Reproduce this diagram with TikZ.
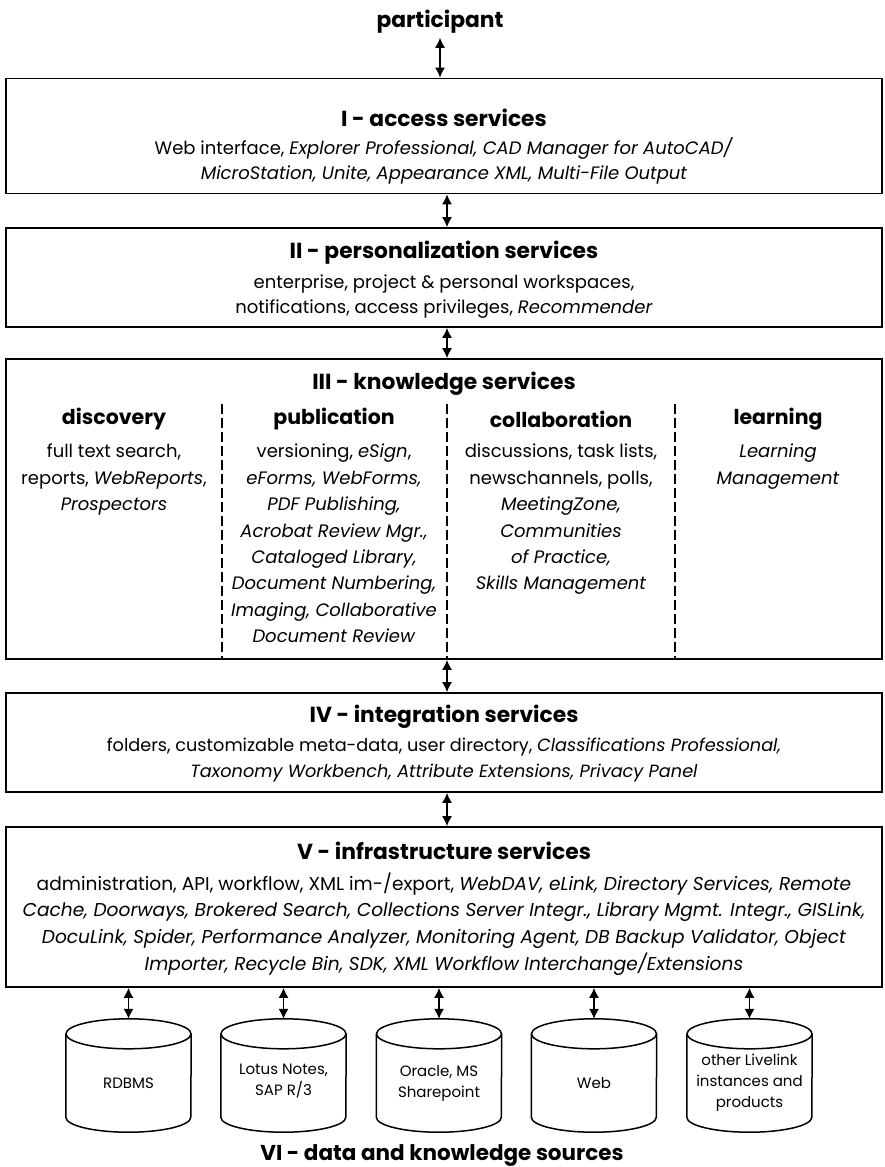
\documentclass[tikz,border=0pt]{standalone}
\usepackage{fontspec}
\setmainfont{Poppins}
\usetikzlibrary{arrows.meta}
\tikzset{
  layer/.style={draw, line width=1.8pt, minimum width=876pt, inner sep=0pt},
  ttl/.style={font=\fontsize{21.8}{24}\selectfont\bfseries, inner sep=0pt},
  body/.style={font=\fontsize{18}{24.5}\selectfont, align=center, inner sep=0pt},
  colhead/.style={font=\fontsize{20.5}{24}\selectfont\bfseries, inner sep=0pt},
  coltext/.style={font=\fontsize{18}{26.4}\selectfont, align=center, inner sep=0pt},
  arr/.style={{Latex[length=10pt,width=10pt]}-{Latex[length=10pt,width=10pt]}, line width=1.2pt},
  sep/.style={line width=1.8pt, dash pattern=on 10pt off 4pt},
  cylbox/.style={minimum width=125pt, minimum height=113pt, inner sep=0pt, align=center,
    font=\fontsize{15}{21}\selectfont},
  cyllabel/.style={inner sep=0pt, align=center, font=\fontsize{15}{21}\selectfont},
  cylline/.style={line width=1.5pt, fill=white},
}
\newcommand{\mycyl}[1]{%
  \draw[cylline] ([yshift=-15pt]#1.north west) -- ([yshift=15pt]#1.south west)
    arc[start angle=180, end angle=360, x radius=62.5pt, y radius=15pt]
    -- ([yshift=-15pt]#1.north east);
  \draw[cylline] ([yshift=-15pt]#1.north) ellipse[x radius=62.5pt, y radius=15pt];
}
\begin{document}
\begin{tikzpicture}[x=1pt,y=1pt]
\useasboundingbox (0,0) rectangle (884,-1167);

\node[ttl] (part) at (440,-22) {participant};

\node[layer, minimum height=115pt] (b1) at (444,-136) {};
\node[ttl] (t1) at (444,-118) {I - access services};
\node[body] (x1) at (444,-161) {Web interface, \textit{Explorer Professional, CAD Manager for AutoCAD/}\\
\textit{MicroStation, Unite, Appearance XML, Multi-File Output}};

\node[layer, minimum height=99pt] (b2) at (444,-277.5) {};
\node[ttl] (t2) at (444,-252.5) {II - personalization services};
\node[body] (x2) at (444,-296.5) {enterprise, project \& personal workspaces,\\
notifications, access privileges, \textit{Recommender}};

\node[layer, minimum height=300pt] (b3) at (444,-509) {};
\node[ttl] (t3) at (444,-383.5) {III - knowledge services};
\node[colhead] (h1) at (114,-419) {discovery};
\node[colhead] (h2) at (334,-419) {publication};
\node[colhead] (h3) at (561,-419) {collaboration};
\node[colhead] (h4) at (778,-419) {learning};
\node[coltext, anchor=north] (c1) at (114,-444) {full text search,\\ reports, \textit{WebReports},\\ \textit{Prospectors}};
\node[coltext, anchor=north] (c2) at (334,-444) {versioning, \textit{eSign},\\ \textit{eForms, WebForms,}\\ \textit{PDF Publishing,}\\
\textit{Acrobat Review Mgr.,}\\ \textit{Cataloged Library,}\\ \textit{Document Numbering,}\\ \textit{Imaging, Collaborative}\\ \textit{Document Review}};
\node[coltext, anchor=north] (c3) at (561,-444) {discussions, task lists,\\ newschannels, polls,\\ \textit{MeetingZone,}\\ \textit{Communities}\\ \textit{of Practice,}\\ \textit{Skills Management}};
\node[coltext, anchor=north] (c4) at (778,-444) {\textit{Learning}\\ \textit{Management}};
\coordinate (s1) at (222,-404);
\coordinate (s2) at (447,-404);
\coordinate (s3) at (675,-404);
\draw[sep] (s1) -- (b3.south -| s1);
\draw[sep] (s2) -- (b3.south -| s2);
\draw[sep] (s3) -- (b3.south -| s3);

\node[layer, minimum height=99pt] (b4) at (444,-742.5) {};
\node[ttl] (t4) at (444,-716.5) {IV - integration services};
\node[body, font=\fontsize{17.7}{26}\selectfont] (x4) at (444,-760) {folders, customizable meta-data, user directory, \textit{Classifications Professional,}\\
\textit{Taxonomy Workbench, Attribute Extensions, Privacy Panel}};

\node[layer, minimum height=160pt] (b5) at (444,-907) {};
\node[ttl] (t5) at (444,-851) {V - infrastructure services};
\node[body, font=\fontsize{18.6}{26.7}\selectfont] (x5) at (444,-924) {administration, API, workflow, XML im-/export, \textit{WebDAV, eLink, Directory Services, Remote}\\
\textit{Cache, Doorways, Brokered Search, Collections Server Integr., Library Mgmt. Integr., GISLink,}\\
\textit{DocuLink, Spider, Performance Analyzer, Monitoring Agent, DB Backup Validator, Object}\\
\textit{Importer, Recycle Bin, SDK, XML Workflow Interchange/Extensions}};

% arrows between layers
\coordinate (pa) at (440,0);
\coordinate (ma) at (447,0);
\draw[arr] (part.south -| pa) ++(0,-4) -- (b1.north -| pa);
\draw[arr] (b1.south -| ma) -- (b2.north -| ma);
\draw[arr] (b2.south -| ma) -- (b3.north -| ma);
\draw[arr] (b3.south -| ma) -- (b4.north -| ma);
\draw[arr] (b4.south -| ma) -- (b5.north -| ma);

% data sources
\node[cylbox] (d1) at (128.5,-1075.5) {};
\node[cylbox] (d2) at (283.5,-1075.5) {};
\node[cylbox] (d3) at (439,-1075.5) {};
\node[cylbox] (d4) at (594,-1075.5) {};
\node[cylbox] (d5) at (749.5,-1075.5) {};
\mycyl{d1}\mycyl{d2}\mycyl{d3}\mycyl{d4}\mycyl{d5}
\node[cyllabel] (l1) at (128.5,-1083) {RDBMS};
\node[cyllabel] (l2) at (283.5,-1081) {Lotus Notes,\\ SAP R/3};
\node[cyllabel] (l3) at (439,-1083) {Oracle, MS\\ Sharepoint};
\node[cyllabel] (l4) at (594,-1083) {Web};
\node[cyllabel] (l5) at (749.5,-1083) {other Livelink\\ instances and\\ products};
\foreach \d in {d1,d2,d3,d4,d5}{
  \draw[arr] (b5.south -| \d.north) -- (\d.north);
}
\node[ttl, font=\fontsize{21.5}{24}\selectfont\bfseries] (vi) at (442,-1155) {VI - data and knowledge sources};
\end{tikzpicture}
\end{document}
